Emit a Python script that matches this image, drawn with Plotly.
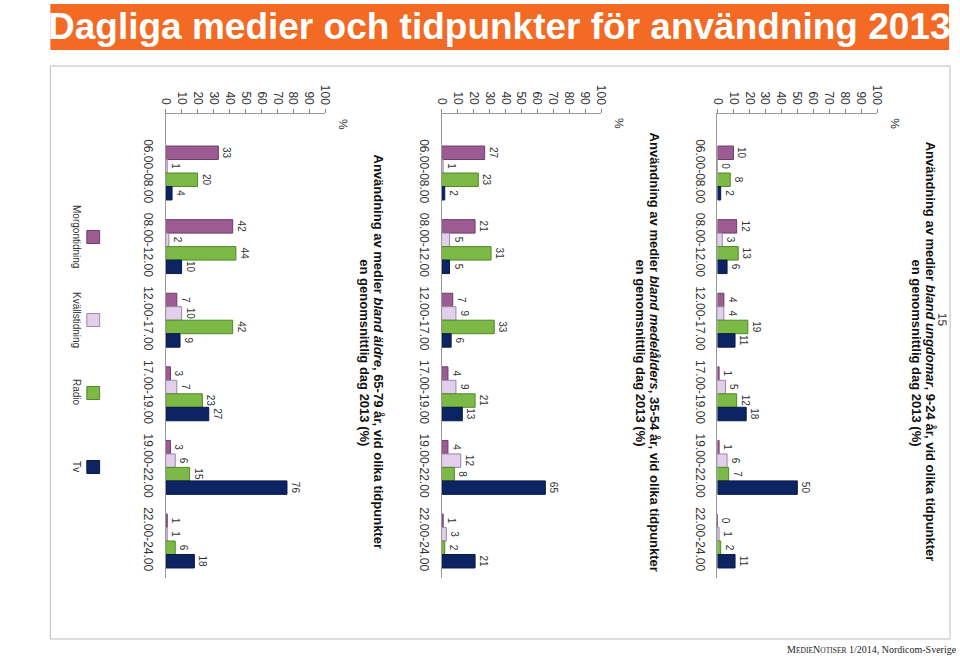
import plotly.graph_objects as go

W, H = 960, 656

categories = ["06.00-08.00", "08.00-12.00", "12.00-17.00", "17.00-19.00", "19.00-22.00", "22.00-24.00"]
series_names = ["Morgontidning", "Kvällstidning", "Radio", "Tv"]
value_ticks = [0, 10, 20, 30, 40, 50, 60, 70, 80, 90, 100]

# Ungdomar 9-24 år
ungdomar_morgon = [10, 12, 4, 1, 1, 0]
ungdomar_kvall = [0, 3, 4, 5, 6, 1]
ungdomar_radio = [8, 13, 19, 12, 7, 2]
ungdomar_tv = [2, 6, 11, 18, 50, 11]

# Medelålders 35-54 år
medel_morgon = [27, 21, 7, 4, 4, 1]
medel_kvall = [1, 5, 9, 9, 12, 3]
medel_radio = [23, 31, 33, 21, 8, 2]
medel_tv = [2, 5, 6, 13, 65, 21]

# Äldre 65-79 år
aldre_morgon = [33, 42, 7, 3, 3, 1]
aldre_kvall = [1, 2, 10, 7, 6, 1]
aldre_radio = [20, 44, 42, 23, 15, 6]
aldre_tv = [4, 10, 9, 27, 76, 18]

def title_line1(group, ages):
    return ("<b>Användning av medier </b><b><i>" + group + "</i></b><b>, " + ages +
            ", vid olika tidpunkter</b>")

title_line2 = "<b>en genomsnittlig dag 2013 (%)</b>"
titles = [
    title_line1("bland äldre", "65-79 år"),
    title_line1("bland medelålders", "35-54 år"),
    title_line1("bland ungdomar", "9-24 år"),
]

header_text = "Dagliga medier och tidpunkter för användning 2013"
page_number = "15"

colors = ["#9C5C93", "#E2CFEC", "#7CB947", "#0D2462"]
line_colors = ["#6E3C68", "#9C86AA", "#4F8A25", "#0A1A48"]

charts = [
    [aldre_morgon, aldre_kvall, aldre_radio, aldre_tv],
    [medel_morgon, medel_kvall, medel_radio, medel_tv],
    [ungdomar_morgon, ungdomar_kvall, ungdomar_radio, ungdomar_tv],
]
chart_x0 = [161, 441, 721]
AX_W = 162
Y_TOP, Y_BOT = 114, 578

def px(x):
    return x / W

def py(y):
    return 1 - y / H

FONT = "Liberation Sans, Arial, sans-serif"

fig = go.Figure()

for ci, data in enumerate(charts):
    sfx = "" if ci == 0 else str(ci + 1)
    for si, vals in enumerate(data):
        fig.add_trace(go.Bar(
            x=vals, y=categories, orientation="h",
            name=series_names[si], showlegend=False,
            marker=dict(color=colors[si], line=dict(color=line_colors[si], width=1)),
            text=[str(v) for v in vals], textposition="outside", textangle=90,
            constraintext="none", cliponaxis=False,
            textfont=dict(family=FONT, size=10, color="#333333"),
            xaxis="x" + sfx, yaxis="y" + sfx,
        ))
    x0 = chart_x0[ci]
    r_top = -(173 - Y_TOP) / 73.6
    r_bot = 5 + (Y_BOT - 541) / 73.6
    fig.layout["xaxis" + sfx] = dict(
        domain=[px(x0), px(x0 + AX_W)], range=[0, 100], side="top",
        anchor="y" + sfx, tickvals=value_ticks, tickangle=90,
        ticks="outside", ticklen=4, tickcolor="#888888",
        showline=True, linecolor="#999999", linewidth=1,
        showgrid=False, zeroline=False,
        tickfont=dict(family=FONT, size=12, color="#333333"),
        fixedrange=True,
    )
    fig.layout["yaxis" + sfx] = dict(
        domain=[py(Y_BOT), py(Y_TOP)], type="category",
        range=[r_bot, r_top], anchor="x" + sfx,
        showline=True, linecolor="#999999", linewidth=1,
        showgrid=False, zeroline=False, ticks="",
        tickangle=90, ticklabelstandoff=6,
        tickfont=dict(family=FONT, size=12, color="#333333"),
        fixedrange=True,
    )
    fig.add_annotation(x=px(x0 + AX_W + 18), y=py(124), xref="paper", yref="paper",
                       text="%", textangle=89.9, showarrow=False,
                       xanchor="center", yanchor="middle",
                       font=dict(family=FONT, size=12, color="#333333"))
    fig.add_annotation(x=px(x0 + 217), y=py(352), xref="paper", yref="paper",
                       text=titles[ci], textangle=90, showarrow=False,
                       xanchor="center", yanchor="middle",
                       font=dict(family=FONT, size=13, color="#111111"))
    fig.add_annotation(x=px(x0 + 202), y=py(353), xref="paper", yref="paper",
                       text=title_line2, textangle=90, showarrow=False,
                       xanchor="center", yanchor="middle",
                       font=dict(family=FONT, size=13, color="#111111"))

shapes = []
shapes.append(dict(type="rect", xref="paper", yref="paper", layer="below",
                   x0=px(44), x1=px(956), y0=py(50), y1=py(4),
                   fillcolor="#F26A24", line=dict(width=0)))
shapes.append(dict(type="rect", xref="paper", yref="paper", layer="below",
                   x0=px(44), x1=px(957), y0=py(639), y1=py(66),
                   line=dict(color="#BBBBBB", width=1)))
legend_y = [237, 320, 393, 467]
for si in range(4):
    shapes.append(dict(type="rect", xref="paper", yref="paper",
                       x0=px(81), x1=px(94), y0=py(legend_y[si] + 6.5), y1=py(legend_y[si] - 6.5),
                       fillcolor=colors[si], line=dict(color=line_colors[si], width=1)))
    fig.add_annotation(x=px(71), y=py(legend_y[si]), xref="paper", yref="paper",
                       text=series_names[si], textangle=90, showarrow=False,
                       xanchor="center", yanchor="middle",
                       font=dict(family=FONT, size=10, color="#333333"))

fig.add_annotation(x=px(500), y=py(26), xref="paper", yref="paper",
                   text="<b>" + header_text + "</b>", showarrow=False,
                   xanchor="center", yanchor="middle",
                   font=dict(family="Liberation Sans Narrow, Arial Narrow, Liberation Sans", size=37, color="white"))
fig.add_annotation(x=px(949), y=py(320), xref="paper", yref="paper",
                   text=page_number, textangle=89.9, showarrow=False,
                   xanchor="center", yanchor="middle",
                   font=dict(family=FONT, size=12, color="#333333"))
fig.add_annotation(x=1, y=py(649), xref="paper", yref="paper", xanchor="right", yanchor="middle",
                   xshift=6,
                   text="<span style='font-size:10px'>M</span><span style='font-size:7.5px'>EDIE</span>"
                        "<span style='font-size:10px'>N</span><span style='font-size:7.5px'>OTISER</span>"
                        " 1/2014, Nordicom-Sverige",
                   showarrow=False,
                   font=dict(family="Liberation Serif, Times New Roman, serif", size=10, color="#222222"))

fig.update_layout(
    width=W, height=H, margin=dict(l=0, r=0, t=0, b=0),
    paper_bgcolor="white", plot_bgcolor="rgba(0,0,0,0)",
    barmode="group", bargap=0.267, bargroupgap=0,
    shapes=shapes, showlegend=False,
)

fig.write_html("out.html", config={"displayModeBar": False},
               post_script="document.body.style.margin='0';document.body.style.overflow='hidden';")
